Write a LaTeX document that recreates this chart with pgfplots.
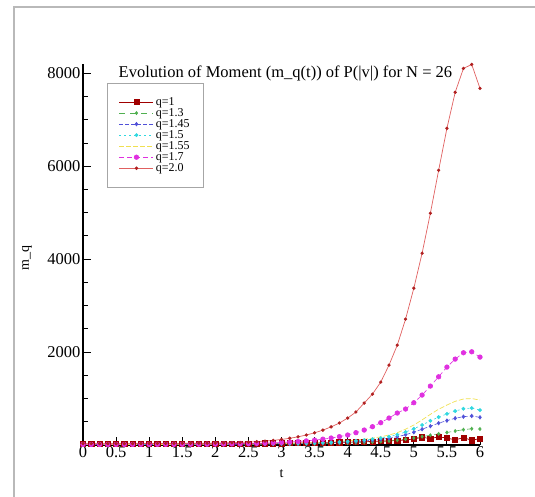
\documentclass[border=0pt]{standalone}
\usepackage{pgfplots}
\usepackage{pgfplotstable}
\pgfplotsset{compat=1.18}
\usepackage{fontspec}
\setmainfont{Liberation Serif}
\definecolor{cA}{HTML}{A00000}
\definecolor{cB}{HTML}{50B050}
\definecolor{cC}{HTML}{5050D8}
\definecolor{cD}{HTML}{30D8E0}
\definecolor{cE}{HTML}{F0E050}
\definecolor{cF}{HTML}{E030E0}
\definecolor{cG}{HTML}{E06060}
\definecolor{cGm}{HTML}{B02020}
\pgfplotstableread{
t     qa   qb   qc   qd   qe   qf    qg
0     20   7    8    9    10   12    30
0.125 21   7    8    9    10   12    29
0.25  22   7    8    9    10   12    28
0.375 22   7    8    9    10   12    28
0.5   23   7    9    10   11   13    28
0.625 23   8    9    10   11   13    29
0.75  24   8    9    10   11   13    30
0.875 24   8    10   11   12   14    31
1.0   25   8    10   11   12   14    32
1.125 25   9    10   11   12   15    33
1.25  26   9    11   12   13   15    34
1.375 26   9    11   12   13   16    35
1.5   27   10   12   13   14   16    36
1.625 27   10   12   13   14   17    37
1.75  28   10   13   14   15   18    38
1.875 28   11   13   14   15   19    40
2.0   29   11   14   15   16   21    42
2.125 30   12   15   16   17   23    45
2.25  30   12   16   17   18   25    49
2.375 31   13   17   18   19   28    55
2.5   32   14   18   19   21   32    62
2.625 33   15   19   21   23   36    72
2.75  34   16   21   23   25   41    84
2.875 35   17   23   25   28   47    100
3.0   37   18   25   28   31   55    120
3.125 39   20   28   31   35   64    145
3.25  41   22   31   35   39   75    176
3.375 43   24   35   39   44   88    215
3.5   46   27   39   44   50   105   262
3.625 49   30   44   50   57   125   320
3.75  52   34   50   57   66   150   390
3.875 56   38   57   66   77   180   473
4.0   60   43   66   77   90   215   580
4.125 65   49   76   90   106  265   710
4.25  70   56   88   106  125  322   903
4.375 76   64   103  125  148  394   1096
4.5   83   74   120  148  175  480   1354
4.625 90   87   145  180  215  580   1720
4.75  98   103  178  222  265  688   2150
4.875 108  125  222  280  340  774   2709
5.0   130  150  275  350  430  910   3375
5.125 165  180  340  430  540  1075  4128
5.25  140  210  405  520  660  1268  4988
5.375 175  240  470  600  770  1468  5912
5.5   150  270  525  670  860  1677  6815
5.625 110  300  575  730  940  1849  7590
5.75  160  330  610  780  990  1985  8105
5.875 100  350  625  795  1000 2006  8190
6.0   140  344  595  752  967  1892  7675
}\datatable
\begin{document}
\begin{tikzpicture}
\begin{axis}[
  at={(0pt,0pt)}, anchor=south west,
  scale only axis, width=397pt, height=381pt,
  xmin=0, xmax=6, ymin=0, ymax=8200,
  clip=false,
  axis lines=left,
  axis line style={-, line width=1.4pt, black},
  tick align=inside,
  major tick length=8pt, minor tick length=5pt,
  tick style={black, line width=0.9pt},
  xtick={0,0.5,...,6},
  xticklabels={0,0.5,1,1.5,2,2.5,3,3.5,4,4.5,5,5.5,6},
  ytick={0,2000,4000,6000,8000},
  yticklabels={,2000,4000,6000,8000},
  minor ytick={500,1000,...,8000},
  ticklabel style={font=\fontsize{16.5}{16.5}\selectfont},
  xticklabel style={yshift=2pt},
  yticklabel style={xshift=1pt},
  xlabel={t}, ylabel={m\_q},
  label style={font=\fontsize{14}{14}\selectfont},
  xlabel style={at={(axis description cs:0.5,0)}, anchor=center, yshift=-29pt},
  ylabel style={at={(axis description cs:-0.141,0.49)}, anchor=center},
  legend style={at={(rel axis cs:0.06,0.95)}, anchor=north west,
    draw=gray!70, line width=0.6pt, font=\fontsize{12}{12}\selectfont,
    inner xsep=12pt, inner ysep=12pt, row sep=-2.4pt, fill=white},
  legend cell align=left,
  legend image code/.code={\draw[mark repeat=2,mark phase=2,#1] plot coordinates {(0pt,0pt) (17pt,0pt) (34pt,0pt)};},
]
\addplot[cA, line width=0.7pt, mark=square*, mark size=2.6pt, mark options={solid, fill=cA, draw=cA}] table[x=t,y=qa]{\datatable};
\addlegendentry{q=1}
\addplot[cB, line width=0.6pt, dash pattern=on 6pt off 5pt, mark=diamond*, mark size=1.6pt, mark options={solid, fill=cB}] table[x=t,y=qb]{\datatable};
\addlegendentry{q=1.3}
\addplot[cC, line width=0.6pt, dash pattern=on 4pt off 2pt, mark=diamond*, mark size=1.8pt, mark options={solid, fill=cC}] table[x=t,y=qc]{\datatable};
\addlegendentry{q=1.45}
\addplot[cD, line width=0.6pt, dash pattern=on 2pt off 3pt, mark=*, mark size=1.6pt, mark options={solid, fill=cD}] table[x=t,y=qd]{\datatable};
\addlegendentry{q=1.5}
\addplot[cE, line width=0.7pt, dash pattern=on 5pt off 2pt, mark=none] table[x=t,y=qe]{\datatable};
\addlegendentry{q=1.55}
\addplot[cF, line width=0.6pt, dash pattern=on 5pt off 3pt, mark=*, mark size=2.3pt, mark options={solid, fill=cF, draw=cF}] table[x=t,y=qf]{\datatable};
\addlegendentry{q=1.7}
\addplot[cG, line width=0.7pt, mark=*, mark size=1.3pt, mark options={solid, fill=cGm, draw=cGm}] table[x=t,y=qg]{\datatable};
\addlegendentry{q=2.0}
\node[font=\fontsize{16.5}{17}\selectfont] at (rel axis cs:0.51,0.976) {Evolution of Moment (m\_q(t)) of P(|v|) for N = 26};
\end{axis}
\draw[gray!55, line width=2pt] (-69pt,-80pt) -- (-69pt,438pt) -- (480pt,438pt);
\pgfresetboundingbox
\useasboundingbox (-83pt,-51pt) rectangle (452pt,445pt);
\end{tikzpicture}
\end{document}
